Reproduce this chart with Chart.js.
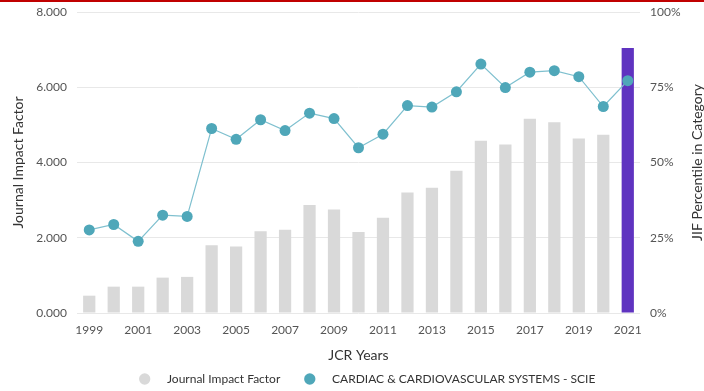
<!DOCTYPE html>
<html>
<head>
<meta charset="utf-8">
<script src="https://cdn.jsdelivr.net/npm/chart.js@4"></script>
<style>
    html, body { margin: 0; padding: 0; background: #fff; }
    #wrap { position: relative; width: 704px; height: 391px; }
    #topline { position: absolute; left: 0; top: 0; width: 704px; height: 2px; background: #c00000; }
</style>
</head>
<body>
<div id="wrap">
    <canvas id="jifChart" width="704" height="391"></canvas>
    <div id="topline"></div>
</div>
<script>
// ===== DATOS =====
const years = ['1999', '2000', '2001', '2002', '2003', '2004', '2005', '2006', '2007', '2008', '2009', '2010',
    '2011', '2012', '2013', '2014', '2015', '2016', '2017', '2018', '2019', '2020', '2021'];
const impactFactor = [0.46, 0.70, 0.70, 0.94, 0.96, 1.80, 1.77, 2.17, 2.21, 2.87, 2.75, 2.15,
    2.53, 3.20, 3.33, 3.78, 4.58, 4.48, 5.16, 5.07, 4.64, 4.74, 7.04];
const percentile = [27.6, 29.4, 23.8, 32.5, 32.1, 61.3, 57.7, 64.2, 60.6, 66.4, 64.6, 54.9,
    59.4, 68.9, 68.4, 73.5, 82.7, 74.9, 80.0, 80.5, 78.5, 68.6, 77.2];
const jifTicks = [0, 2, 4, 6, 8];
const pctTicks = [0, 25, 50, 75, 100];

const FONT = 'Lato';
const GRIS = '#555';

const barColors = years.map((y, i) => i === years.length - 1 ? '#5f33c0' : '#d9d9d9');

// el titulo del eje derecho se lee de abajo hacia arriba
const rightTitle = {
    id: 'rightTitle',
    afterLayout(chart) {
        // leyenda un poco a la derecha
        chart.legend.left += 16;
        chart.legend.right += 16;
    },
    afterDraw(chart) {
        const ctx = chart.ctx;
        const area = chart.chartArea;
        ctx.save();
        ctx.translate(697, (area.top + area.bottom) / 2);
        ctx.rotate(-Math.PI / 2);
        ctx.fillStyle = '#333';
        ctx.font = '14px ' + FONT;
        ctx.textAlign = 'center';
        ctx.textBaseline = 'middle';
        ctx.fillText('JIF Percentile in Category', 0, 0);
        ctx.restore();
    }
};

// ejes verticales sin relleno extra arriba/abajo
const fitVertical = width => s => {
    s.width = width;
    s.paddingTop = 0;
    s.paddingBottom = 0;
};

new Chart(document.getElementById('jifChart'), {
    type: 'bar',
    data: {
        labels: years,
        datasets: [{
            label: 'Journal Impact Factor',
            data: impactFactor,
            backgroundColor: barColors,
            barPercentage: 0.5,
            categoryPercentage: 1,
            yAxisID: 'y',
            order: 2
        }, {
            type: 'line',
            label: 'CARDIAC & CARDIOVASCULAR SYSTEMS - SCIE',
            data: percentile,
            borderColor: '#7fc0cf',
            borderWidth: 1.2,
            backgroundColor: '#4fa7b9',
            pointBackgroundColor: '#4fa7b9',
            pointBorderColor: '#4fa7b9',
            pointRadius: 5.5,
            pointBorderWidth: 0,
            tension: 0,
            yAxisID: 'y1',
            order: 1
        }]
    },
    options: {
        responsive: false,
        animation: false,
        layout: { padding: { top: 12, left: 0, right: 0, bottom: -4 } },
        plugins: {
            legend: {
                position: 'bottom',
                labels: {
                    usePointStyle: true,
                    pointStyle: 'circle',
                    boxWidth: 8,
                    boxHeight: 8,
                    padding: 4,
                    color: '#333',
                    font: { family: FONT, size: 12 },
                    generateLabels: chart => {
                        const items = Chart.defaults.plugins.legend.labels.generateLabels(chart);
                        items.forEach(it => {
                            it.text = '    ' + it.text + (it.datasetIndex === 0 ? '       ' : '');
                        });
                        return items;
                    },
                    sort: (a, b) => a.datasetIndex - b.datasetIndex
                }
            },
            tooltip: { enabled: false }
        },
        scales: {
            x: {
                afterFit: s => { s.height = 56; },
                grid: { display: false, drawTicks: false },
                border: { display: false },
                ticks: {
                    color: GRIS,
                    font: { family: FONT, size: 12 },
                    maxRotation: 0,
                    autoSkip: false,
                    padding: 10,
                    callback: (v, i) => i % 2 === 0 ? years[i] : ''
                },
                title: {
                    display: true,
                    text: 'JCR Years',
                    color: '#333',
                    font: { family: FONT, size: 14 },
                    padding: { top: 0, bottom: 5 }
                }
            },
            y: {
                position: 'left',
                min: 0,
                max: 8,
                afterBuildTicks: s => { s.ticks = jifTicks.map(v => ({ value: v })); },
                afterFit: fitVertical(77),
                grid: { color: '#e8e8e8', drawTicks: false },
                border: { display: false },
                ticks: {
                    color: GRIS,
                    font: { family: FONT, size: 12 },
                    padding: 10,
                    callback: v => v.toFixed(3)
                },
                title: {
                    display: true,
                    text: 'Journal Impact Factor',
                    color: '#333',
                    font: { family: FONT, size: 14 },
                    padding: { top: 10, bottom: 0 }
                }
            },
            y1: {
                position: 'right',
                min: 0,
                max: 100,
                afterBuildTicks: s => { s.ticks = pctTicks.map(v => ({ value: v })); },
                afterFit: fitVertical(64),
                grid: { display: false, drawTicks: false },
                border: { display: false },
                ticks: {
                    color: GRIS,
                    font: { family: FONT, size: 12 },
                    padding: 10,
                    callback: v => v + '%'
                }
            }
        }
    },
    plugins: [rightTitle]
});
</script>
</body>
</html>
